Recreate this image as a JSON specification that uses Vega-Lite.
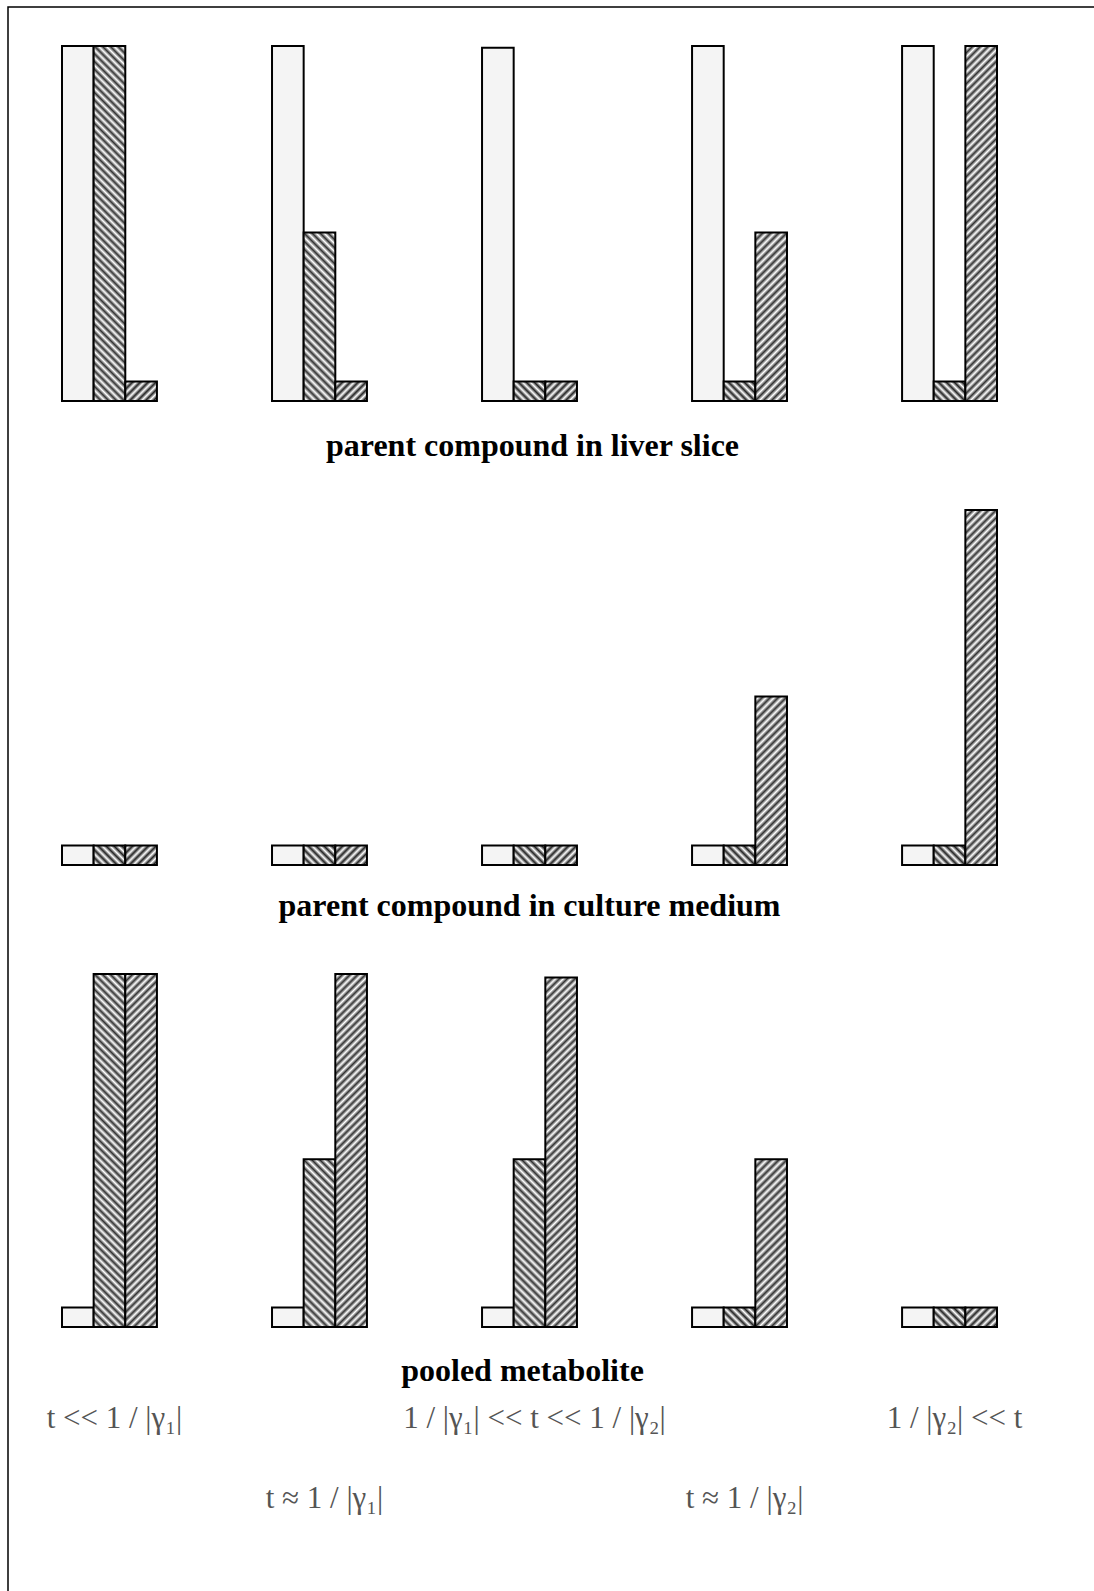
{
"$schema":"https://vega.github.io/schema/vega-lite/v6.json",
"width":1086,"height":1584,"autosize":"none",
"padding":{"left":8,"top":7,"right":0,"bottom":0},
"background":"#ffffff",
"config":{"view":{"stroke":"#000","strokeWidth":1.5,"strokeDash":[1086,2670,1584]}},
"params":[
{"name":"gFF","value":{"gradient":"linear","x1":0,"y1":0,"x2":0.0964,"y2":1.0806,"stops":[{"offset":0,"color":"#333"},{"offset":0.01,"color":"#fff"},{"offset":0.02,"color":"#333"},{"offset":0.03,"color":"#fff"},{"offset":0.04,"color":"#333"},{"offset":0.05,"color":"#fff"},{"offset":0.06,"color":"#333"},{"offset":0.07,"color":"#fff"},{"offset":0.08,"color":"#333"},{"offset":0.09,"color":"#fff"},{"offset":0.1,"color":"#333"},{"offset":0.11,"color":"#fff"},{"offset":0.12,"color":"#333"},{"offset":0.13,"color":"#fff"},{"offset":0.14,"color":"#333"},{"offset":0.15,"color":"#fff"},{"offset":0.16,"color":"#333"},{"offset":0.17,"color":"#fff"},{"offset":0.18,"color":"#333"},{"offset":0.19,"color":"#fff"},{"offset":0.2,"color":"#333"},{"offset":0.21,"color":"#fff"},{"offset":0.22,"color":"#333"},{"offset":0.23,"color":"#fff"},{"offset":0.24,"color":"#333"},{"offset":0.25,"color":"#fff"},{"offset":0.26,"color":"#333"},{"offset":0.27,"color":"#fff"},{"offset":0.28,"color":"#333"},{"offset":0.29,"color":"#fff"},{"offset":0.3,"color":"#333"},{"offset":0.31,"color":"#fff"},{"offset":0.32,"color":"#333"},{"offset":0.33,"color":"#fff"},{"offset":0.34,"color":"#333"},{"offset":0.35,"color":"#fff"},{"offset":0.36,"color":"#333"},{"offset":0.37,"color":"#fff"},{"offset":0.38,"color":"#333"},{"offset":0.39,"color":"#fff"},{"offset":0.4,"color":"#333"},{"offset":0.41,"color":"#fff"},{"offset":0.42,"color":"#333"},{"offset":0.43,"color":"#fff"},{"offset":0.44,"color":"#333"},{"offset":0.45,"color":"#fff"},{"offset":0.46,"color":"#333"},{"offset":0.47,"color":"#fff"},{"offset":0.48,"color":"#333"},{"offset":0.49,"color":"#fff"},{"offset":0.5,"color":"#333"},{"offset":0.51,"color":"#fff"},{"offset":0.52,"color":"#333"},{"offset":0.53,"color":"#fff"},{"offset":0.54,"color":"#333"},{"offset":0.55,"color":"#fff"},{"offset":0.56,"color":"#333"},{"offset":0.57,"color":"#fff"},{"offset":0.58,"color":"#333"},{"offset":0.59,"color":"#fff"},{"offset":0.6,"color":"#333"},{"offset":0.61,"color":"#fff"},{"offset":0.62,"color":"#333"},{"offset":0.63,"color":"#fff"},{"offset":0.64,"color":"#333"},{"offset":0.65,"color":"#fff"},{"offset":0.66,"color":"#333"},{"offset":0.67,"color":"#fff"},{"offset":0.68,"color":"#333"},{"offset":0.69,"color":"#fff"},{"offset":0.7,"color":"#333"},{"offset":0.71,"color":"#fff"},{"offset":0.72,"color":"#333"},{"offset":0.73,"color":"#fff"},{"offset":0.74,"color":"#333"},{"offset":0.75,"color":"#fff"},{"offset":0.76,"color":"#333"},{"offset":0.77,"color":"#fff"},{"offset":0.78,"color":"#333"},{"offset":0.79,"color":"#fff"},{"offset":0.8,"color":"#333"},{"offset":0.81,"color":"#fff"},{"offset":0.82,"color":"#333"},{"offset":0.83,"color":"#fff"},{"offset":0.84,"color":"#333"},{"offset":0.85,"color":"#fff"},{"offset":0.86,"color":"#333"},{"offset":0.87,"color":"#fff"},{"offset":0.88,"color":"#333"},{"offset":0.89,"color":"#fff"},{"offset":0.9,"color":"#333"},{"offset":0.91,"color":"#fff"},{"offset":0.92,"color":"#333"},{"offset":0.93,"color":"#fff"},{"offset":0.94,"color":"#333"},{"offset":0.95,"color":"#fff"},{"offset":0.96,"color":"#333"},{"offset":0.97,"color":"#fff"},{"offset":0.98,"color":"#333"},{"offset":0.99,"color":"#fff"},{"offset":1,"color":"#333"}]}},
{"name":"gBF","value":{"gradient":"linear","x1":0,"y1":1,"x2":0.0964,"y2":-0.0806,"stops":[{"offset":0,"color":"#333"},{"offset":0.01,"color":"#fff"},{"offset":0.02,"color":"#333"},{"offset":0.03,"color":"#fff"},{"offset":0.04,"color":"#333"},{"offset":0.05,"color":"#fff"},{"offset":0.06,"color":"#333"},{"offset":0.07,"color":"#fff"},{"offset":0.08,"color":"#333"},{"offset":0.09,"color":"#fff"},{"offset":0.1,"color":"#333"},{"offset":0.11,"color":"#fff"},{"offset":0.12,"color":"#333"},{"offset":0.13,"color":"#fff"},{"offset":0.14,"color":"#333"},{"offset":0.15,"color":"#fff"},{"offset":0.16,"color":"#333"},{"offset":0.17,"color":"#fff"},{"offset":0.18,"color":"#333"},{"offset":0.19,"color":"#fff"},{"offset":0.2,"color":"#333"},{"offset":0.21,"color":"#fff"},{"offset":0.22,"color":"#333"},{"offset":0.23,"color":"#fff"},{"offset":0.24,"color":"#333"},{"offset":0.25,"color":"#fff"},{"offset":0.26,"color":"#333"},{"offset":0.27,"color":"#fff"},{"offset":0.28,"color":"#333"},{"offset":0.29,"color":"#fff"},{"offset":0.3,"color":"#333"},{"offset":0.31,"color":"#fff"},{"offset":0.32,"color":"#333"},{"offset":0.33,"color":"#fff"},{"offset":0.34,"color":"#333"},{"offset":0.35,"color":"#fff"},{"offset":0.36,"color":"#333"},{"offset":0.37,"color":"#fff"},{"offset":0.38,"color":"#333"},{"offset":0.39,"color":"#fff"},{"offset":0.4,"color":"#333"},{"offset":0.41,"color":"#fff"},{"offset":0.42,"color":"#333"},{"offset":0.43,"color":"#fff"},{"offset":0.44,"color":"#333"},{"offset":0.45,"color":"#fff"},{"offset":0.46,"color":"#333"},{"offset":0.47,"color":"#fff"},{"offset":0.48,"color":"#333"},{"offset":0.49,"color":"#fff"},{"offset":0.5,"color":"#333"},{"offset":0.51,"color":"#fff"},{"offset":0.52,"color":"#333"},{"offset":0.53,"color":"#fff"},{"offset":0.54,"color":"#333"},{"offset":0.55,"color":"#fff"},{"offset":0.56,"color":"#333"},{"offset":0.57,"color":"#fff"},{"offset":0.58,"color":"#333"},{"offset":0.59,"color":"#fff"},{"offset":0.6,"color":"#333"},{"offset":0.61,"color":"#fff"},{"offset":0.62,"color":"#333"},{"offset":0.63,"color":"#fff"},{"offset":0.64,"color":"#333"},{"offset":0.65,"color":"#fff"},{"offset":0.66,"color":"#333"},{"offset":0.67,"color":"#fff"},{"offset":0.68,"color":"#333"},{"offset":0.69,"color":"#fff"},{"offset":0.7,"color":"#333"},{"offset":0.71,"color":"#fff"},{"offset":0.72,"color":"#333"},{"offset":0.73,"color":"#fff"},{"offset":0.74,"color":"#333"},{"offset":0.75,"color":"#fff"},{"offset":0.76,"color":"#333"},{"offset":0.77,"color":"#fff"},{"offset":0.78,"color":"#333"},{"offset":0.79,"color":"#fff"},{"offset":0.8,"color":"#333"},{"offset":0.81,"color":"#fff"},{"offset":0.82,"color":"#333"},{"offset":0.83,"color":"#fff"},{"offset":0.84,"color":"#333"},{"offset":0.85,"color":"#fff"},{"offset":0.86,"color":"#333"},{"offset":0.87,"color":"#fff"},{"offset":0.88,"color":"#333"},{"offset":0.89,"color":"#fff"},{"offset":0.9,"color":"#333"},{"offset":0.91,"color":"#fff"},{"offset":0.92,"color":"#333"},{"offset":0.93,"color":"#fff"},{"offset":0.94,"color":"#333"},{"offset":0.95,"color":"#fff"},{"offset":0.96,"color":"#333"},{"offset":0.97,"color":"#fff"},{"offset":0.98,"color":"#333"},{"offset":0.99,"color":"#fff"},{"offset":1,"color":"#333"}]}},
{"name":"gFH","value":{"gradient":"linear","x1":0,"y1":0,"x2":0.2156,"y2":1.1476,"stops":[{"offset":0,"color":"#333"},{"offset":0.02,"color":"#fff"},{"offset":0.04,"color":"#333"},{"offset":0.06,"color":"#fff"},{"offset":0.08,"color":"#333"},{"offset":0.1,"color":"#fff"},{"offset":0.12,"color":"#333"},{"offset":0.14,"color":"#fff"},{"offset":0.16,"color":"#333"},{"offset":0.18,"color":"#fff"},{"offset":0.2,"color":"#333"},{"offset":0.22,"color":"#fff"},{"offset":0.24,"color":"#333"},{"offset":0.26,"color":"#fff"},{"offset":0.28,"color":"#333"},{"offset":0.3,"color":"#fff"},{"offset":0.32,"color":"#333"},{"offset":0.34,"color":"#fff"},{"offset":0.36,"color":"#333"},{"offset":0.38,"color":"#fff"},{"offset":0.4,"color":"#333"},{"offset":0.42,"color":"#fff"},{"offset":0.44,"color":"#333"},{"offset":0.46,"color":"#fff"},{"offset":0.48,"color":"#333"},{"offset":0.5,"color":"#fff"},{"offset":0.52,"color":"#333"},{"offset":0.54,"color":"#fff"},{"offset":0.56,"color":"#333"},{"offset":0.58,"color":"#fff"},{"offset":0.6,"color":"#333"},{"offset":0.62,"color":"#fff"},{"offset":0.64,"color":"#333"},{"offset":0.66,"color":"#fff"},{"offset":0.68,"color":"#333"},{"offset":0.7,"color":"#fff"},{"offset":0.72,"color":"#333"},{"offset":0.74,"color":"#fff"},{"offset":0.76,"color":"#333"},{"offset":0.78,"color":"#fff"},{"offset":0.8,"color":"#333"},{"offset":0.82,"color":"#fff"},{"offset":0.84,"color":"#333"},{"offset":0.86,"color":"#fff"},{"offset":0.88,"color":"#333"},{"offset":0.9,"color":"#fff"},{"offset":0.92,"color":"#333"},{"offset":0.94,"color":"#fff"},{"offset":0.96,"color":"#333"},{"offset":0.98,"color":"#fff"},{"offset":1,"color":"#333"}]}},
{"name":"gBH","value":{"gradient":"linear","x1":0,"y1":1,"x2":0.2156,"y2":-0.1476,"stops":[{"offset":0,"color":"#333"},{"offset":0.02,"color":"#fff"},{"offset":0.04,"color":"#333"},{"offset":0.06,"color":"#fff"},{"offset":0.08,"color":"#333"},{"offset":0.1,"color":"#fff"},{"offset":0.12,"color":"#333"},{"offset":0.14,"color":"#fff"},{"offset":0.16,"color":"#333"},{"offset":0.18,"color":"#fff"},{"offset":0.2,"color":"#333"},{"offset":0.22,"color":"#fff"},{"offset":0.24,"color":"#333"},{"offset":0.26,"color":"#fff"},{"offset":0.28,"color":"#333"},{"offset":0.3,"color":"#fff"},{"offset":0.32,"color":"#333"},{"offset":0.34,"color":"#fff"},{"offset":0.36,"color":"#333"},{"offset":0.38,"color":"#fff"},{"offset":0.4,"color":"#333"},{"offset":0.42,"color":"#fff"},{"offset":0.44,"color":"#333"},{"offset":0.46,"color":"#fff"},{"offset":0.48,"color":"#333"},{"offset":0.5,"color":"#fff"},{"offset":0.52,"color":"#333"},{"offset":0.54,"color":"#fff"},{"offset":0.56,"color":"#333"},{"offset":0.58,"color":"#fff"},{"offset":0.6,"color":"#333"},{"offset":0.62,"color":"#fff"},{"offset":0.64,"color":"#333"},{"offset":0.66,"color":"#fff"},{"offset":0.68,"color":"#333"},{"offset":0.7,"color":"#fff"},{"offset":0.72,"color":"#333"},{"offset":0.74,"color":"#fff"},{"offset":0.76,"color":"#333"},{"offset":0.78,"color":"#fff"},{"offset":0.8,"color":"#333"},{"offset":0.82,"color":"#fff"},{"offset":0.84,"color":"#333"},{"offset":0.86,"color":"#fff"},{"offset":0.88,"color":"#333"},{"offset":0.9,"color":"#fff"},{"offset":0.92,"color":"#333"},{"offset":0.94,"color":"#fff"},{"offset":0.96,"color":"#333"},{"offset":0.98,"color":"#fff"},{"offset":1,"color":"#333"}]}},
{"name":"gFS","value":{"gradient":"linear","x1":0,"y1":0,"x2":1.1718,"y2":0.7215,"stops":[{"offset":0,"color":"#222"},{"offset":0.0769,"color":"#fff"},{"offset":0.1538,"color":"#222"},{"offset":0.2308,"color":"#fff"},{"offset":0.3077,"color":"#222"},{"offset":0.3846,"color":"#fff"},{"offset":0.4615,"color":"#222"},{"offset":0.5385,"color":"#fff"},{"offset":0.6154,"color":"#222"},{"offset":0.6923,"color":"#fff"},{"offset":0.7692,"color":"#222"},{"offset":0.8462,"color":"#fff"},{"offset":0.9231,"color":"#222"},{"offset":1,"color":"#fff"}]}},
{"name":"gBS","value":{"gradient":"linear","x1":0,"y1":1,"x2":1.1718,"y2":0.2785,"stops":[{"offset":0,"color":"#222"},{"offset":0.0769,"color":"#fff"},{"offset":0.1538,"color":"#222"},{"offset":0.2308,"color":"#fff"},{"offset":0.3077,"color":"#222"},{"offset":0.3846,"color":"#fff"},{"offset":0.4615,"color":"#222"},{"offset":0.5385,"color":"#fff"},{"offset":0.6154,"color":"#222"},{"offset":0.6923,"color":"#fff"},{"offset":0.7692,"color":"#222"},{"offset":0.8462,"color":"#fff"},{"offset":0.9231,"color":"#222"},{"offset":1,"color":"#fff"}]}}
],
"datasets":{
"liver":[{"g":"g1","s":"d","v":1},{"g":"g1","s":"b","v":1},{"g":"g1","s":"f","v":0.055},{"g":"g2","s":"d","v":1},{"g":"g2","s":"b","v":0.475},{"g":"g2","s":"f","v":0.055},{"g":"g3","s":"d","v":0.995},{"g":"g3","s":"b","v":0.055},{"g":"g3","s":"f","v":0.055},{"g":"g4","s":"d","v":1},{"g":"g4","s":"b","v":0.055},{"g":"g4","s":"f","v":0.475},{"g":"g5","s":"d","v":1},{"g":"g5","s":"b","v":0.055},{"g":"g5","s":"f","v":1}],
"medium":[{"g":"g1","s":"d","v":0.055},{"g":"g1","s":"b","v":0.055},{"g":"g1","s":"f","v":0.055},{"g":"g2","s":"d","v":0.055},{"g":"g2","s":"b","v":0.055},{"g":"g2","s":"f","v":0.055},{"g":"g3","s":"d","v":0.055},{"g":"g3","s":"b","v":0.055},{"g":"g3","s":"f","v":0.055},{"g":"g4","s":"d","v":0.055},{"g":"g4","s":"b","v":0.055},{"g":"g4","s":"f","v":0.475},{"g":"g5","s":"d","v":0.055},{"g":"g5","s":"b","v":0.055},{"g":"g5","s":"f","v":1}],
"pooled":[{"g":"g1","s":"d","v":0.055},{"g":"g1","s":"b","v":1},{"g":"g1","s":"f","v":1},{"g":"g2","s":"d","v":0.055},{"g":"g2","s":"b","v":0.475},{"g":"g2","s":"f","v":1},{"g":"g3","s":"d","v":0.055},{"g":"g3","s":"b","v":0.475},{"g":"g3","s":"f","v":0.99},{"g":"g4","s":"d","v":0.055},{"g":"g4","s":"b","v":0.055},{"g":"g4","s":"f","v":0.475},{"g":"g5","s":"d","v":0.055},{"g":"g5","s":"b","v":0.055},{"g":"g5","s":"f","v":0.055}],
"labels":[{"g":"g1","line":1,"label":"t  <<  1 / |γ₁|"},{"g":"g3","line":1,"label":"1 / |γ₁|  <<  t  <<  1 / |γ₂|"},{"g":"g5","line":1,"label":"1 / |γ₂|  <<  t"},{"g":"g2","line":2,"label":"t  ≈  1 / |γ₁|"},{"g":"g4","line":2,"label":"t  ≈  1 / |γ₂|"}]
},
"layer":[
{"data":{"name":"liver"},"layer":[
{"mark":{"type":"bar","stroke":"#000","strokeWidth":2},
"encoding":{
"x":{"field":"g","type":"nominal","scale":{"range":[54,989],"paddingInner":0.548,"paddingOuter":0},"axis":null},
"xOffset":{"field":"s","type":"nominal","scale":{"domain":["d","b","f"],"paddingInner":0,"paddingOuter":0}},
"y":{"field":"v","type":"quantitative","scale":{"domain":[0,1],"range":[394,39],"nice":false,"zero":false},"axis":null},
"y2":{"datum":0},
"fill":{"condition":[{"test":"datum.s === 'f' && datum.v > 0.7","value":{"expr":"gFF"}},{"test":"datum.s === 'f' && datum.v > 0.2","value":{"expr":"gFH"}},{"test":"datum.s === 'f'","value":{"expr":"gFS"}},{"test":"datum.s === 'b' && datum.v > 0.7","value":{"expr":"gBF"}},{"test":"datum.s === 'b' && datum.v > 0.2","value":{"expr":"gBH"}},{"test":"datum.s === 'b'","value":{"expr":"gBS"}}],"value":"#f4f4f4"}
}},
{"data":{"values":[{"t":"parent compound in liver slice"}]},
"mark":{"type":"text","font":"Liberation Serif","fontWeight":"bold","fontSize":32,"baseline":"alphabetic","align":"center","dx":3,"fill":"#000"},
"encoding":{"x":{"datum":"g3","type":"nominal","bandPosition":0.5,"axis":null},"y":{"datum":-0.155,"type":"quantitative","axis":null},"text":{"field":"t"}}}
]},
{"data":{"name":"medium"},"layer":[
{"mark":{"type":"bar","stroke":"#000","strokeWidth":2},
"encoding":{
"x":{"field":"g","type":"nominal","axis":null},
"xOffset":{"field":"s","type":"nominal","scale":{"domain":["d","b","f"],"paddingInner":0,"paddingOuter":0}},
"y":{"field":"v","type":"quantitative","scale":{"domain":[0,1],"range":[858,503],"nice":false,"zero":false},"axis":null},
"y2":{"datum":0},
"fill":{"condition":[{"test":"datum.s === 'f' && datum.v > 0.7","value":{"expr":"gFF"}},{"test":"datum.s === 'f' && datum.v > 0.2","value":{"expr":"gFH"}},{"test":"datum.s === 'f'","value":{"expr":"gFS"}},{"test":"datum.s === 'b' && datum.v > 0.7","value":{"expr":"gBF"}},{"test":"datum.s === 'b' && datum.v > 0.2","value":{"expr":"gBH"}},{"test":"datum.s === 'b'","value":{"expr":"gBS"}}],"value":"#f4f4f4"}
}},
{"data":{"values":[{"t":"parent compound in culture medium"}]},
"mark":{"type":"text","font":"Liberation Serif","fontWeight":"bold","fontSize":32,"baseline":"alphabetic","align":"center","dx":0,"fill":"#000"},
"encoding":{"x":{"datum":"g3","type":"nominal","bandPosition":0.5,"axis":null},"y":{"datum":-0.1437,"type":"quantitative","axis":null},"text":{"field":"t"}}}
]},
{"data":{"name":"pooled"},"layer":[
{"mark":{"type":"bar","stroke":"#000","strokeWidth":2},
"encoding":{
"x":{"field":"g","type":"nominal","axis":null},
"xOffset":{"field":"s","type":"nominal","scale":{"domain":["d","b","f"],"paddingInner":0,"paddingOuter":0}},
"y":{"field":"v","type":"quantitative","scale":{"domain":[0,1],"range":[1320,967],"nice":false,"zero":false},"axis":null},
"y2":{"datum":0},
"fill":{"condition":[{"test":"datum.s === 'f' && datum.v > 0.7","value":{"expr":"gFF"}},{"test":"datum.s === 'f' && datum.v > 0.2","value":{"expr":"gFH"}},{"test":"datum.s === 'f'","value":{"expr":"gFS"}},{"test":"datum.s === 'b' && datum.v > 0.7","value":{"expr":"gBF"}},{"test":"datum.s === 'b' && datum.v > 0.2","value":{"expr":"gBH"}},{"test":"datum.s === 'b'","value":{"expr":"gBS"}}],"value":"#f4f4f4"}
}},
{"data":{"values":[{"t":"pooled metabolite"}]},
"mark":{"type":"text","font":"Liberation Serif","fontWeight":"bold","fontSize":32,"baseline":"alphabetic","align":"center","dx":-7,"fill":"#000"},
"encoding":{"x":{"datum":"g3","type":"nominal","bandPosition":0.5,"axis":null},"y":{"datum":-0.153,"type":"quantitative","axis":null},"text":{"field":"t"}}}
]},
{"data":{"name":"labels"},
"mark":{"type":"text","font":"Liberation Serif","fontSize":31,"baseline":"middle","align":"center","dx":5,"fill":"#555"},
"encoding":{
"x":{"field":"g","type":"nominal","bandPosition":0.5,"axis":null},
"y":{"field":"line","type":"quantitative","scale":{"domain":[1,2],"range":[1412,1492],"nice":false,"zero":false},"axis":null},
"text":{"field":"label"}}}
],
"resolve":{"scale":{"y":"independent"}}
}
